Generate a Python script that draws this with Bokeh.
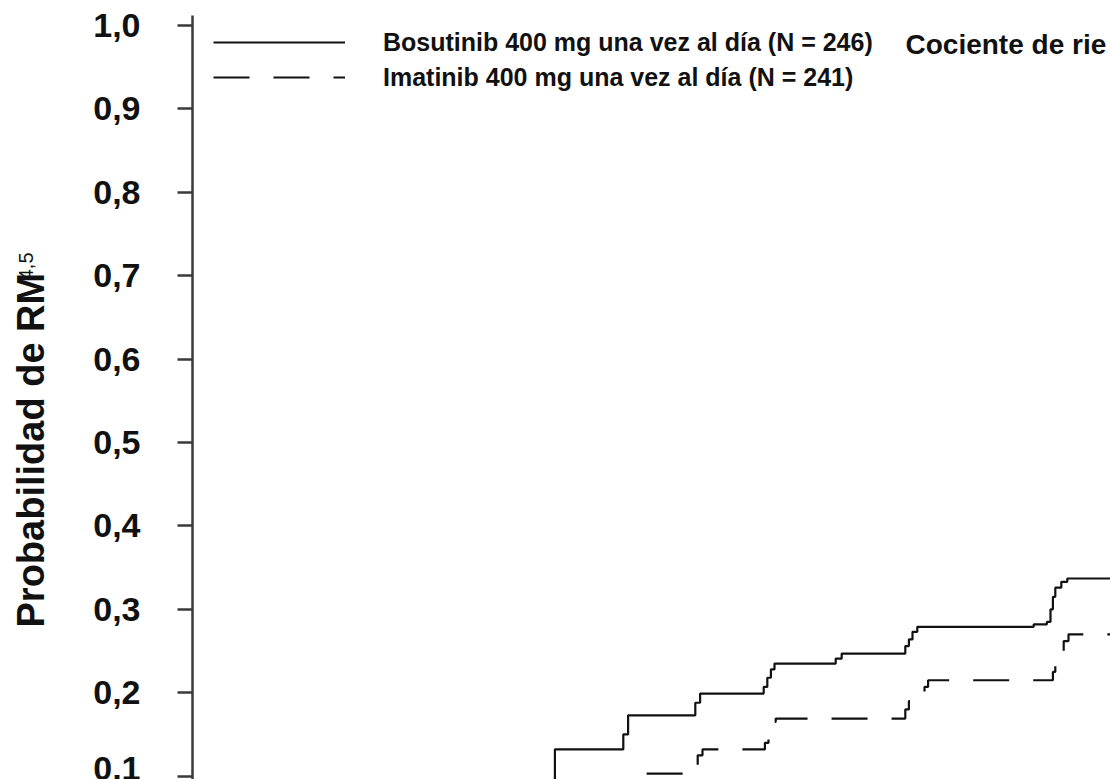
import math
from bokeh.plotting import figure
from bokeh.layouts import row
from bokeh.models import Legend, LegendItem, Label, FixedTicker, Range1d
from bokeh.core.properties import value
from bokeh.embed import file_html
from bokeh.resources import INLINE

# ---- data (months, cumulative probability of MR4.5) ----
months_bos = [0, 15.1, 17.95, 18.15, 20.95, 21.15, 23.8, 23.95, 24.1, 24.25,
              26.8, 27.05, 29.7, 29.85, 30.0, 30.2, 35.05, 35.6, 35.75, 35.85,
              35.95, 36.2, 36.45, 40.0]
prob_bos = [0.0, 0.132, 0.150, 0.173, 0.188, 0.199, 0.207, 0.218, 0.228, 0.235,
            0.241, 0.247, 0.256, 0.264, 0.273, 0.279, 0.282, 0.285, 0.300, 0.315,
            0.326, 0.333, 0.337, 0.337]

months_ima = [0, 18.25, 21.05, 21.25, 23.85, 24.0, 24.15, 24.3, 29.7, 29.85,
              30.0, 30.5, 30.65, 35.85, 35.95, 36.3, 36.5, 40.0]
prob_ima = [0.0, 0.103, 0.125, 0.132, 0.140, 0.155, 0.165, 0.169, 0.180, 0.190,
            0.200, 0.207, 0.215, 0.225, 0.242, 0.262, 0.270, 0.270]

y_ticks = [0.1, 0.2, 0.3, 0.4, 0.5, 0.6, 0.7, 0.8, 0.9, 1.0]
y_tick_labels = ["0,1", "0,2", "0,3", "0,4", "0,5", "0,6", "0,7", "0,8", "0,9", "1,0"]

label_bos = "Bosutinib 400 mg una vez al día (N = 246)"
label_ima = "Imatinib 400 mg una vez al día (N = 241)"
hr_text = "Cociente de rie"
y_title = "Probabilidad de RM"
y_title_sup = "4,5"

FONT = "Liberation Sans"
INK = "#111111"
LEFT_W = 80

# ---- narrow panel holding the rotated y-axis title ----
pt = figure(width=LEFT_W, height=779, output_backend="svg", toolbar_location=None,
            x_range=Range1d(0, LEFT_W), y_range=Range1d(0, 779),
            x_axis_location=None, y_axis_location=None,
            min_border_left=0, min_border_right=0, min_border_top=0, min_border_bottom=0)
pt.outline_line_color = None
pt.xgrid.visible = False
pt.ygrid.visible = False
pt.text(x=[30], y=[155], text=[y_title], angle=math.pi / 2,
        text_align="left", text_baseline="middle",
        text_font=value(FONT), text_font_style="bold", text_font_size="38px",
        text_color=INK)
pt.text(x=[25], y=[509], text=[y_title_sup], angle=math.pi / 2,
        text_align="left", text_baseline="middle",
        text_font=value(FONT), text_font_style="normal", text_font_size="20px",
        text_color=INK)

# ---- main plot ----
p = figure(width=1110 - LEFT_W, height=779, output_backend="svg", toolbar_location=None,
           x_range=Range1d(0, 38.25), y_range=Range1d(0.096, 1.012),
           x_axis_location=None, min_border_left=192 - LEFT_W, min_border_right=0,
           min_border_top=15, min_border_bottom=0)
p.outline_line_color = None
p.xgrid.visible = False
p.ygrid.visible = False
p.background_fill_color = "white"
p.border_fill_color = "white"

ax = p.yaxis[0]
ax.ticker = FixedTicker(ticks=y_ticks)
ax.major_label_overrides = {t: l for t, l in zip(y_ticks, y_tick_labels)}
ax.axis_line_color = "#3a3a3a"
ax.axis_line_width = 2.5
ax.major_tick_line_color = "#3a3a3a"
ax.major_tick_line_width = 2.5
ax.major_tick_out = 15
ax.major_tick_in = 0
ax.minor_tick_out = 0
ax.minor_tick_in = 0
ax.major_label_standoff = 37
ax.major_label_text_font = FONT
ax.major_label_text_font_style = "bold"
ax.major_label_text_font_size = "34px"
ax.major_label_text_color = INK

r_bos = p.step(months_bos, prob_bos, mode="after", line_color=INK, line_width=2.2)
r_ima = p.step(months_ima, prob_ima, mode="after", line_color=INK, line_width=2.2,
               line_dash="36 24")

legend = Legend(items=[LegendItem(label=label_bos, renderers=[r_bos]),
                       LegendItem(label=label_ima, renderers=[r_ima])],
                location=(21, 687), padding=0, margin=0, spacing=5,
                glyph_width=132, glyph_height=30, label_height=30,
                label_standoff=38, border_line_color=None,
                background_fill_alpha=0,
                label_text_font=FONT, label_text_font_style="bold",
                label_text_font_size="25px", label_text_color=INK,
                label_text_baseline="middle")
p.add_layout(legend)

p.add_layout(Label(x=713, y=735, x_units="screen", y_units="screen", text=hr_text,
                   text_font=FONT, text_font_style="bold", text_font_size="28px",
                   text_color=INK, text_baseline="middle"))

layout = row(pt, p)
open("out.html", "w").write(file_html(layout, INLINE))
